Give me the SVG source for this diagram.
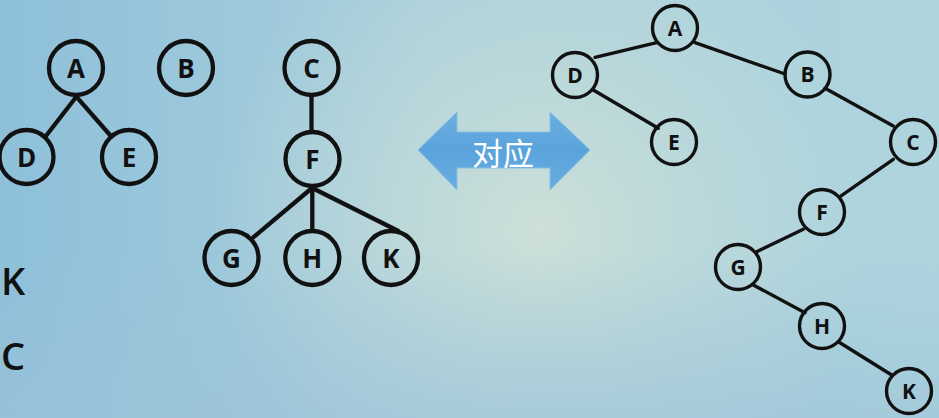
<svg xmlns="http://www.w3.org/2000/svg" width="939" height="418" viewBox="0 0 939 418">
<defs>
<linearGradient id="bgL" x1="0" y1="0" x2="1" y2="0">
<stop offset="0" stop-color="#8ec0da"/>
<stop offset="0.45" stop-color="#a9cfdc"/>
<stop offset="1" stop-color="#aed5de"/>
</linearGradient>
<radialGradient id="bgR" cx="540" cy="230" r="330" gradientUnits="userSpaceOnUse">
<stop offset="0" stop-color="#cde0d8" stop-opacity="1"/>
<stop offset="0.5" stop-color="#c4dcd9" stop-opacity="0.6"/>
<stop offset="1" stop-color="#c4dcd9" stop-opacity="0"/>
</radialGradient>
<linearGradient id="bgB" x1="0" y1="0" x2="0" y2="1">
<stop offset="0.6" stop-color="#9cc2d8" stop-opacity="0"/>
<stop offset="1" stop-color="#9cc2d8" stop-opacity="0.55"/>
</linearGradient>
<linearGradient id="arrowFill" x1="0" y1="0" x2="0" y2="1">
<stop offset="0" stop-color="#6aaee0"/>
<stop offset="0.5" stop-color="#5aa3dc"/>
<stop offset="1" stop-color="#6aaee0"/>
</linearGradient>
<style>
.big circle{fill:none;stroke:#111;stroke-width:4.3}
.big text{font-family:"Open Sans","Liberation Sans",sans-serif;font-weight:700;font-size:26px;fill:#111;text-anchor:middle}
.small circle{fill:none;stroke:#111;stroke-width:3.4}
.small text{font-family:"Open Sans","Liberation Sans",sans-serif;font-weight:700;font-size:21px;fill:#111;text-anchor:middle}
.edgesL line{stroke:#111;stroke-width:4.3;stroke-linecap:round}
.edgesR line{stroke:#111;stroke-width:3.4;stroke-linecap:round}
.cut{font-family:"Open Sans","Liberation Sans",sans-serif;font-weight:600;font-size:38px;fill:#111;text-anchor:start}
</style>
</defs>
<rect x="0" y="0" width="939" height="418" fill="url(#bgL)"/>
<rect x="0" y="0" width="939" height="418" fill="url(#bgR)"/>
<rect x="0" y="0" width="939" height="418" fill="url(#bgB)"/>

<text class="cut" x="1" y="295">K</text>
<text class="cut" x="1" y="370">C</text>

<g id="connectors">
<g class="edgesL">
<line x1="76.3" y1="96.7" x2="46.7" y2="135"/>
<line x1="76.3" y1="96.7" x2="110" y2="135"/>
<line x1="311.5" y1="96.7" x2="311.5" y2="130.5"/>
<line x1="312" y1="188" x2="253.3" y2="237.3"/>
<line x1="312.3" y1="188" x2="312.3" y2="230"/>
<line x1="312.3" y1="188" x2="398.3" y2="231"/>
</g>
<g class="edgesR">
<line x1="656.7" y1="42.7" x2="595" y2="57.3"/>
<line x1="695" y1="42.7" x2="785" y2="74"/>
<line x1="593.3" y1="90" x2="658.3" y2="128.3"/>
<line x1="825" y1="88.3" x2="893.3" y2="126"/>
<line x1="893.3" y1="159.3" x2="840" y2="196.7"/>
<line x1="803.3" y1="229.3" x2="756.7" y2="251.7"/>
<line x1="753.3" y1="285" x2="805" y2="312.7"/>
<line x1="838.3" y1="341.7" x2="891.7" y2="375"/>
</g>
</g>

<g class="big">
<g id="L-A"><circle cx="76" cy="68" r="27"/><text x="76" y="78">A</text></g>
<g id="L-B"><circle cx="186" cy="68" r="27"/><text x="186" y="78">B</text></g>
<g id="L-C"><circle cx="311.5" cy="68" r="27"/><text x="311.5" y="78">C</text></g>
<g id="L-D"><circle cx="26.5" cy="157" r="27"/><text x="26.5" y="167">D</text></g>
<g id="L-E"><circle cx="129" cy="157" r="27"/><text x="129" y="167">E</text></g>
<g id="L-F"><circle cx="312.5" cy="159" r="27"/><text x="312.5" y="169">F</text></g>
<g id="L-G"><circle cx="231.5" cy="258" r="27"/><text x="231.5" y="268">G</text></g>
<g id="L-H"><circle cx="312.3" cy="258" r="27"/><text x="312.3" y="268">H</text></g>
<g id="L-K"><circle cx="391" cy="258" r="27"/><text x="391" y="268">K</text></g>
</g>

<g id="arrow">
<polygon points="418,150 457,112 457,132 550,132 550,112 590,150 550,190 550,168 457,168 457,190" fill="url(#arrowFill)" stroke="#86bfe6" stroke-width="1"/>
<text x="503" y="151" dominant-baseline="central" text-anchor="middle" font-family="'Noto Sans CJK SC','Noto Sans CJK JP',sans-serif" font-size="31" fill="#ffffff">对应</text>
</g>

<g class="small">
<g id="R-A"><circle cx="675" cy="28" r="22.5"/><text x="675" y="35.5">A</text></g>
<g id="R-D"><circle cx="575" cy="75" r="22.5"/><text x="575" y="82.5">D</text></g>
<g id="R-B"><circle cx="807.5" cy="74.5" r="22.5"/><text x="807.5" y="82">B</text></g>
<g id="R-E"><circle cx="674" cy="142" r="22.5"/><text x="674" y="149.5">E</text></g>
<g id="R-C"><circle cx="913" cy="142" r="22.5"/><text x="913" y="149.5">C</text></g>
<g id="R-F"><circle cx="822" cy="212" r="22.5"/><text x="822" y="219.5">F</text></g>
<g id="R-G"><circle cx="738" cy="267" r="22.5"/><text x="738" y="274.5">G</text></g>
<g id="R-H"><circle cx="822" cy="326" r="22.5"/><text x="822" y="333.5">H</text></g>
<g id="R-K"><circle cx="909" cy="391" r="22.5"/><text x="909" y="398.5">K</text></g>
</g>
</svg>
